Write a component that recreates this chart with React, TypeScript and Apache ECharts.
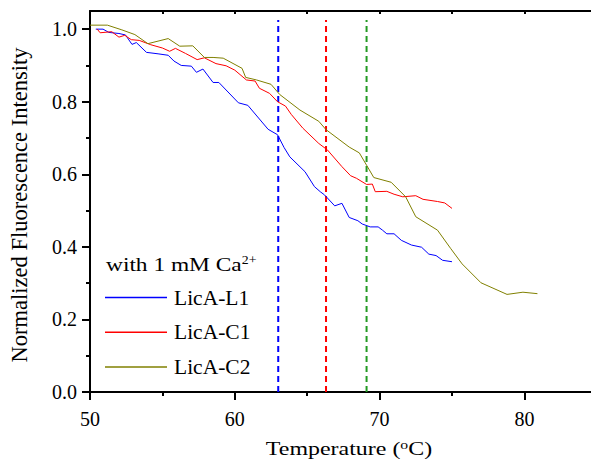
import React, { useEffect, useRef } from "react";
import * as echarts from "echarts";

const FONT = "Liberation Serif";

const seriesNames = ["LicA-L1", "LicA-C1", "LicA-C2"];
const seriesColors = ["#0000ff", "#ff0000", "#808000"];

const l1Data: [number, number][] = [
  [50.4, 1.0], [50.9, 1.0], [51.3, 0.991], [52.0, 0.988], [52.45, 0.984], [52.9, 0.958],
  [53.2, 0.963], [53.9, 0.936], [54.7, 0.932], [55.4, 0.928], [55.8, 0.912], [56.3, 0.9],
  [57.0, 0.898], [57.35, 0.881], [57.8, 0.89], [58.5, 0.853], [58.9, 0.853], [60.25, 0.797],
  [60.9, 0.79], [62.3, 0.724], [62.95, 0.709], [63.4, 0.674], [63.8, 0.648], [64.85, 0.607],
  [65.5, 0.566], [65.9, 0.552], [66.2, 0.543], [66.9, 0.513], [67.4, 0.52], [67.9, 0.481],
  [68.5, 0.472], [68.8, 0.463], [69.35, 0.455], [69.9, 0.455], [70.2, 0.446], [70.5, 0.436],
  [71.0, 0.436], [71.5, 0.418], [72.2, 0.405], [72.9, 0.399], [73.4, 0.38], [73.9, 0.376],
  [74.35, 0.363], [75.0, 0.359],
];

const c1Data: [number, number][] = [
  [50.5, 1.0], [50.7, 0.99], [51.5, 0.993], [52.0, 0.978], [52.4, 0.983], [52.85, 0.971],
  [53.4, 0.969], [54.2, 0.957], [55.0, 0.948], [55.5, 0.939], [55.9, 0.947], [56.6, 0.933],
  [57.4, 0.916], [57.9, 0.921], [58.7, 0.905], [59.4, 0.899], [60.0, 0.887], [60.8, 0.86],
  [61.4, 0.857], [61.7, 0.837], [62.4, 0.823], [62.95, 0.8], [63.5, 0.788], [63.9, 0.765],
  [64.7, 0.727], [65.8, 0.685], [66.4, 0.667], [67.4, 0.621], [68.0, 0.596], [68.4, 0.589],
  [69.1, 0.572], [69.5, 0.573], [69.7, 0.552], [70.5, 0.553], [71.0, 0.545], [71.6, 0.538],
  [72.5, 0.541], [73.0, 0.531], [74.0, 0.525], [74.5, 0.521], [75.0, 0.506],
];

const c2Data: [number, number][] = [
  [50.0, 1.011], [51.2, 1.011], [52.2, 0.998], [53.1, 0.985], [54.0, 0.96], [55.4, 0.974],
  [56.2, 0.953], [57.1, 0.954], [57.9, 0.922], [58.5, 0.922], [59.2, 0.92], [60.5, 0.892],
  [60.75, 0.867], [61.5, 0.86], [62.5, 0.848], [63.1, 0.82], [64.5, 0.777], [65.8, 0.746],
  [66.3, 0.723], [67.9, 0.675], [68.6, 0.659], [69.1, 0.625], [69.6, 0.591], [70.8, 0.578],
  [71.8, 0.538], [72.5, 0.483], [74.0, 0.446], [74.9, 0.396], [75.7, 0.353], [77.0, 0.301],
  [78.8, 0.269], [79.9, 0.275], [80.9, 0.271],
];

const tmValues = [63.0, 66.3, 69.1];
const tmColors = ["#0000ff", "#ff0000", "#229922"];
const tmLineRange = [0, 1.025];

// Axis scales (the visible window is 50–84.6 by 0–1.05; the tick axes run a little past it)
const X_MIN = 50;
const X_MAX = 90;
const X_MAJOR = 10;
const X_TOP_TICK = 5;
const X_VISIBLE_MAX = 84.6;
const Y_MIN = 0;
const Y_MAX = 1.2;
const Y_MAJOR = 0.2;
const Y_TOP = 1.05;

export default function App() {
  const ref = useRef<HTMLDivElement>(null);
  useEffect(() => {
    if (!ref.current) return;
    const chart = echarts.init(ref.current, undefined, { renderer: "svg" });
    const black = "#000";
    const lineStyle = { color: black, width: 2 };

    const plotLeft = 90;
    const plotRight = 591;
    const pxPerX = (plotRight - plotLeft) / (X_VISIBLE_MAX - X_MIN);
    const gridRight = 591 - (plotLeft + (X_MAX - X_MIN) * pxPerX);
    const plotBottom = 392;
    const plotTop = 11;
    const pxPerY = (plotBottom - plotTop) / (Y_TOP - Y_MIN);
    const gridTop = plotBottom - (Y_MAX - Y_MIN) * pxPerY;
    const topAxisOffset = -(plotTop - gridTop);

    const curveData = [l1Data, c1Data, c2Data];
    const curves = seriesNames.map((name, i) => ({
      type: "line",
      name,
      data: curveData[i],
      symbol: "none",
      xAxisIndex: 0,
      yAxisIndex: 0,
      lineStyle: { width: 1, color: seriesColors[i] },
      itemStyle: { color: seriesColors[i] },
      z: 3,
    }));
    const tmLines = tmValues.map((t, i) => ({
      type: "line",
      data: [[t, tmLineRange[0]], [t, tmLineRange[1]]],
      symbol: "none",
      silent: true,
      xAxisIndex: 0,
      yAxisIndex: 0,
      lineStyle: { width: 2, color: tmColors[i], type: [6, 4] },
      itemStyle: { color: tmColors[i] },
      z: 2,
    }));

    chart.setOption({
      animation: false,
      grid: [
        {
          left: plotLeft, right: gridRight, top: gridTop, bottom: 460 - plotBottom,
          containLabel: false, outerBoundsMode: "none",
        },
        {
          left: plotLeft, right: 591 - plotRight, top: plotTop, bottom: 460 - plotBottom,
          containLabel: false, outerBoundsMode: "none",
        },
      ],
      xAxis: [
        {
          type: "value", gridIndex: 0, min: X_MIN, max: X_MAX, interval: X_MAJOR, position: "bottom",
          axisLine: { show: true, onZero: false, lineStyle },
          axisTick: { show: true, inside: false, length: 8, lineStyle },
          minorTick: { show: true, splitNumber: 2, length: 4, lineStyle },
          axisLabel: {
            show: true, margin: 17, fontSize: 20, fontFamily: FONT, color: black,
            formatter: (v: number) => (v > X_VISIBLE_MAX ? "" : String(v)),
          },
          splitLine: { show: false },
          minorSplitLine: { show: false },
        },
        {
          type: "value", gridIndex: 0, min: X_MIN, max: X_MAX, interval: X_TOP_TICK, position: "top", offset: topAxisOffset,
          axisLine: { show: true, onZero: false, lineStyle },
          axisTick: { show: true, inside: true, length: 3, lineStyle },
          axisLabel: { show: false },
          splitLine: { show: false },
        },
        {
          type: "value", gridIndex: 1, min: X_MIN, max: X_VISIBLE_MAX, show: false,
        },
      ],
      yAxis: [
        {
          type: "value", gridIndex: 0, min: Y_MIN, max: Y_MAX, interval: Y_MAJOR, position: "left",
          axisLine: { show: false },
          axisTick: { show: true, inside: false, length: 8, lineStyle },
          minorTick: { show: true, splitNumber: 2, length: 4, lineStyle },
          axisLabel: {
            show: true, margin: 13, fontSize: 20, fontFamily: FONT, color: black,
            formatter: (v: number) => (v > Y_TOP ? "" : v.toFixed(1)),
          },
          splitLine: { show: false },
          minorSplitLine: { show: false },
        },
        {
          type: "value", gridIndex: 1, min: Y_MIN, max: Y_TOP, position: "left",
          axisLine: { show: true, onZero: false, lineStyle },
          axisTick: { show: false },
          axisLabel: { show: false },
          splitLine: { show: false },
        },
      ],
      legend: {
        data: seriesNames,
        orient: "vertical",
        left: 100,
        top: 281.5,
        icon: "rect",
        itemWidth: 62,
        itemHeight: 1.5,
        itemGap: 12.7,
        selectedMode: false,
        textStyle: { fontSize: 21.5, fontFamily: FONT, color: black, lineHeight: 21.5, padding: [0, 0, 0, 2] },
      },
      graphic: [
        {
          type: "text",
          x: 19,
          y: 205,
          rotation: Math.PI / 2,
          style: {
            text: "Normalized Fluorescence Intensity",
            fontSize: 22.5,
            fontFamily: FONT,
            fill: black,
            align: "center",
            verticalAlign: "middle",
          },
        },
        {
          type: "text",
          x: 106,
          y: 265,
          scaleX: 1.2,
          style: {
            text: "with 1 mM Ca{sup|2+}",
            fontSize: 19.5,
            fontFamily: FONT,
            fill: black,
            align: "left",
            verticalAlign: "middle",
            rich: { sup: { fontSize: 11.5, fontFamily: FONT, fill: black, padding: [0, 0, 10, 0] } },
          },
        },
        {
          type: "text",
          x: 349,
          y: 449,
          scaleX: 1.26,
          style: {
            text: "Temperature ({sup|o}C)",
            fontSize: 19,
            fontFamily: FONT,
            fill: black,
            align: "center",
            verticalAlign: "middle",
            rich: { sup: { fontSize: 12.5, fontFamily: FONT, fill: black, padding: [0, 0, 9, 0] } },
          },
        },
      ],
      series: [...tmLines, ...curves],
    });
    return () => chart.dispose();
  }, []);
  return <div ref={ref} style={{ position: "absolute", left: 0, top: 0, width: 591, height: 460 }} />;
}
